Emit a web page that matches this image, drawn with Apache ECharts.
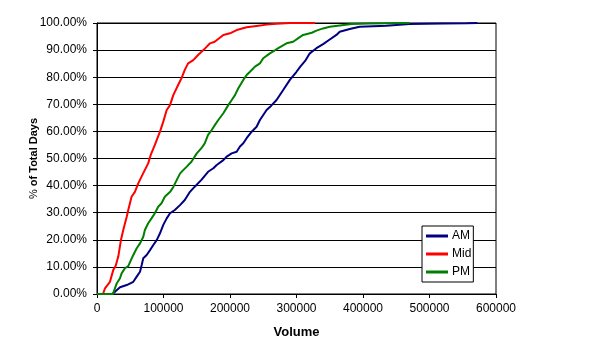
<!DOCTYPE html>
<html>
<head>
<meta charset="utf-8">
<script src="https://cdn.jsdelivr.net/npm/echarts@6/dist/echarts.min.js"></script>
<style>
html,body{margin:0;padding:0;background:#fff;}
#chart{width:592px;height:356px;}
</style>
</head>
<body>
<div id="chart"></div>
<script>
const seriesNames = ['AM', 'Mid', 'PM'];
const xTicks = [0, 100000, 200000, 300000, 400000, 500000, 600000];
const yTicks = [0, 10, 20, 30, 40, 50, 60, 70, 80, 90, 100];

const amData = [[0,0],[22500,0],[27000,0.8],[34600,2.5],[44700,3.3],[54600,4.5],[59700,6.4],[64700,8.2],[67200,10.7],[69600,13.2],[74700,14.4],[79700,16.2],[84700,18.1],[89800,19.9],[94700,22.4],[99700,25.5],[104800,27.9],[109800,29.8],[117000,31],[124800,32.8],[132000,34.7],[139800,37.7],[147000,39.6],[157000,42.1],[167000,45.1],[175000,46.4],[180000,47.6],[190000,49.4],[195000,50.7],[202500,51.9],[210000,52.5],[215000,54.4],[220000,55.6],[225000,57.5],[232600,59.9],[240000,61.7],[245000,64.2],[255000,67.9],[262000,69.5],[270000,71.6],[280000,75.3],[290000,79],[300000,82],[306000,84],[313000,86],[320000,88.8],[330000,90.7],[340000,92.2],[350000,93.9],[360000,95.6],[365000,96.8],[380000,97.8],[395000,98.6],[435000,99],[470000,99.6],[520000,99.8],[556000,99.9],[572000,100]];

const midData = [[0,0],[9000,0],[12000,2.1],[19500,4.5],[24500,8.9],[28000,10.3],[32000,13.8],[36000,19.9],[39500,23.6],[44700,28.5],[47000,31],[52000,35.9],[57000,37.7],[62000,40.8],[67000,43.3],[72000,45.8],[77000,48.2],[80800,51.3],[87000,55],[94700,59.9],[99700,63.6],[104800,67.9],[109800,69.7],[114700,73.4],[122000,77.1],[127000,79.6],[132000,82.7],[137000,85.1],[144800,86.3],[152000,88.2],[160000,90],[170000,92.5],[177000,93.1],[190000,95.6],[200000,96.2],[210000,97.4],[225000,98.4],[240000,98.9],[255000,99.4],[270000,99.7],[290000,100],[328000,100]];

const pmData = [[0,0],[24000,0],[27000,2.1],[29600,3.9],[34600,5.8],[37000,7.6],[42000,9.5],[47000,10.3],[51000,12.5],[54600,14.4],[59700,16.9],[64700,18.7],[69600,21.1],[72000,23.6],[77000,26.1],[82000,27.9],[87000,29.8],[92000,32.2],[97000,33.5],[102000,35.9],[110000,37.7],[115000,39.6],[120000,42.1],[125000,44.5],[130000,45.8],[135000,47],[142000,48.8],[150000,51.9],[157000,53.8],[162000,55.6],[167000,58.7],[172500,60.5],[177400,62.4],[182400,64.2],[190000,66.7],[197400,69.7],[202600,71.6],[207500,73.4],[212500,75.9],[220000,79],[225000,80.8],[230000,82],[237600,83.9],[245000,85.1],[250000,87],[260000,88.8],[268000,90],[272600,90.7],[285000,92.5],[295000,93.1],[302700,94.4],[310000,95.6],[323000,96.4],[330000,97.2],[340000,98],[350000,98.6],[365000,99.1],[383000,99.6],[410000,99.8],[470000,100]];

const colors = ['#000080', '#FF0000', '#008000'];
const allData = [amData, midData, pmData];

const chart = echarts.init(document.getElementById('chart'), null, {renderer: 'canvas'});
const font = 'Liberation Sans, Arial, sans-serif';

chart.setOption({
  animation: false,
  backgroundColor: '#ffffff',
  grid: {
    left: 97, right: 96, top: 23, bottom: 62,
    show: true, borderColor: '#000', borderWidth: 1, backgroundColor: 'transparent'
  },
  legend: {
    orient: 'vertical',
    left: 422, top: 226,
    data: seriesNames.map(n => ({name: n, icon: 'rect'})),
    itemWidth: 22, itemHeight: 3, itemGap: 4,
    padding: [3, 2, 3, 4],
    borderColor: '#000', borderWidth: 1, backgroundColor: '#fff',
    textStyle: {fontFamily: font, fontSize: 12, color: '#000', lineHeight: 14, padding: [0,0,0,-1]}
  },
  xAxis: {
    type: 'value',
    min: xTicks[0], max: xTicks[xTicks.length - 1], interval: xTicks[1] - xTicks[0],
    name: 'Volume', nameLocation: 'middle', nameGap: 32, nameMoveOverlap: false,
    nameTextStyle: {fontFamily: font, fontSize: 13, fontWeight: 'bold', color: '#000'},
    axisLine: {show: true, lineStyle: {color: '#000', width: 1}},
    axisTick: {show: true, length: 4, lineStyle: {color: '#000'}},
    axisLabel: {fontFamily: font, fontSize: 12, color: '#000', margin: 9, formatter: v => String(v)},
    splitLine: {show: false}
  },
  yAxis: {
    type: 'value',
    min: yTicks[0], max: yTicks[yTicks.length - 1], interval: yTicks[1] - yTicks[0],
    name: '{p|%} {b|of Total Days}', nameLocation: 'middle', nameGap: 58, nameRotate: 90,
    nameMoveOverlap: false,
    nameTextStyle: {
      fontFamily: font, fontSize: 11, fontWeight: 'bold', color: '#000',
      rich: {
        p: {fontFamily: font, fontSize: 11, fontWeight: 'normal', color: '#000'},
        b: {fontFamily: font, fontSize: 11, fontWeight: 'bold', color: '#000'}
      }
    },
    axisLine: {show: true, lineStyle: {color: '#000', width: 1}},
    axisTick: {show: true, length: 4, lineStyle: {color: '#000'}},
    axisLabel: {fontFamily: font, fontSize: 12, color: '#000', margin: 10, formatter: v => v.toFixed(2) + '%'},
    splitLine: {show: true, lineStyle: {color: '#000', width: 1}}
  },
  series: seriesNames.map((n, i) => ({
    name: n,
    type: 'line',
    data: allData[i],
    showSymbol: false,
    symbol: 'none',
    lineStyle: {color: colors[i], width: 2},
    itemStyle: {color: colors[i]},
    z: 3
  }))
});
</script>
</body>
</html>
